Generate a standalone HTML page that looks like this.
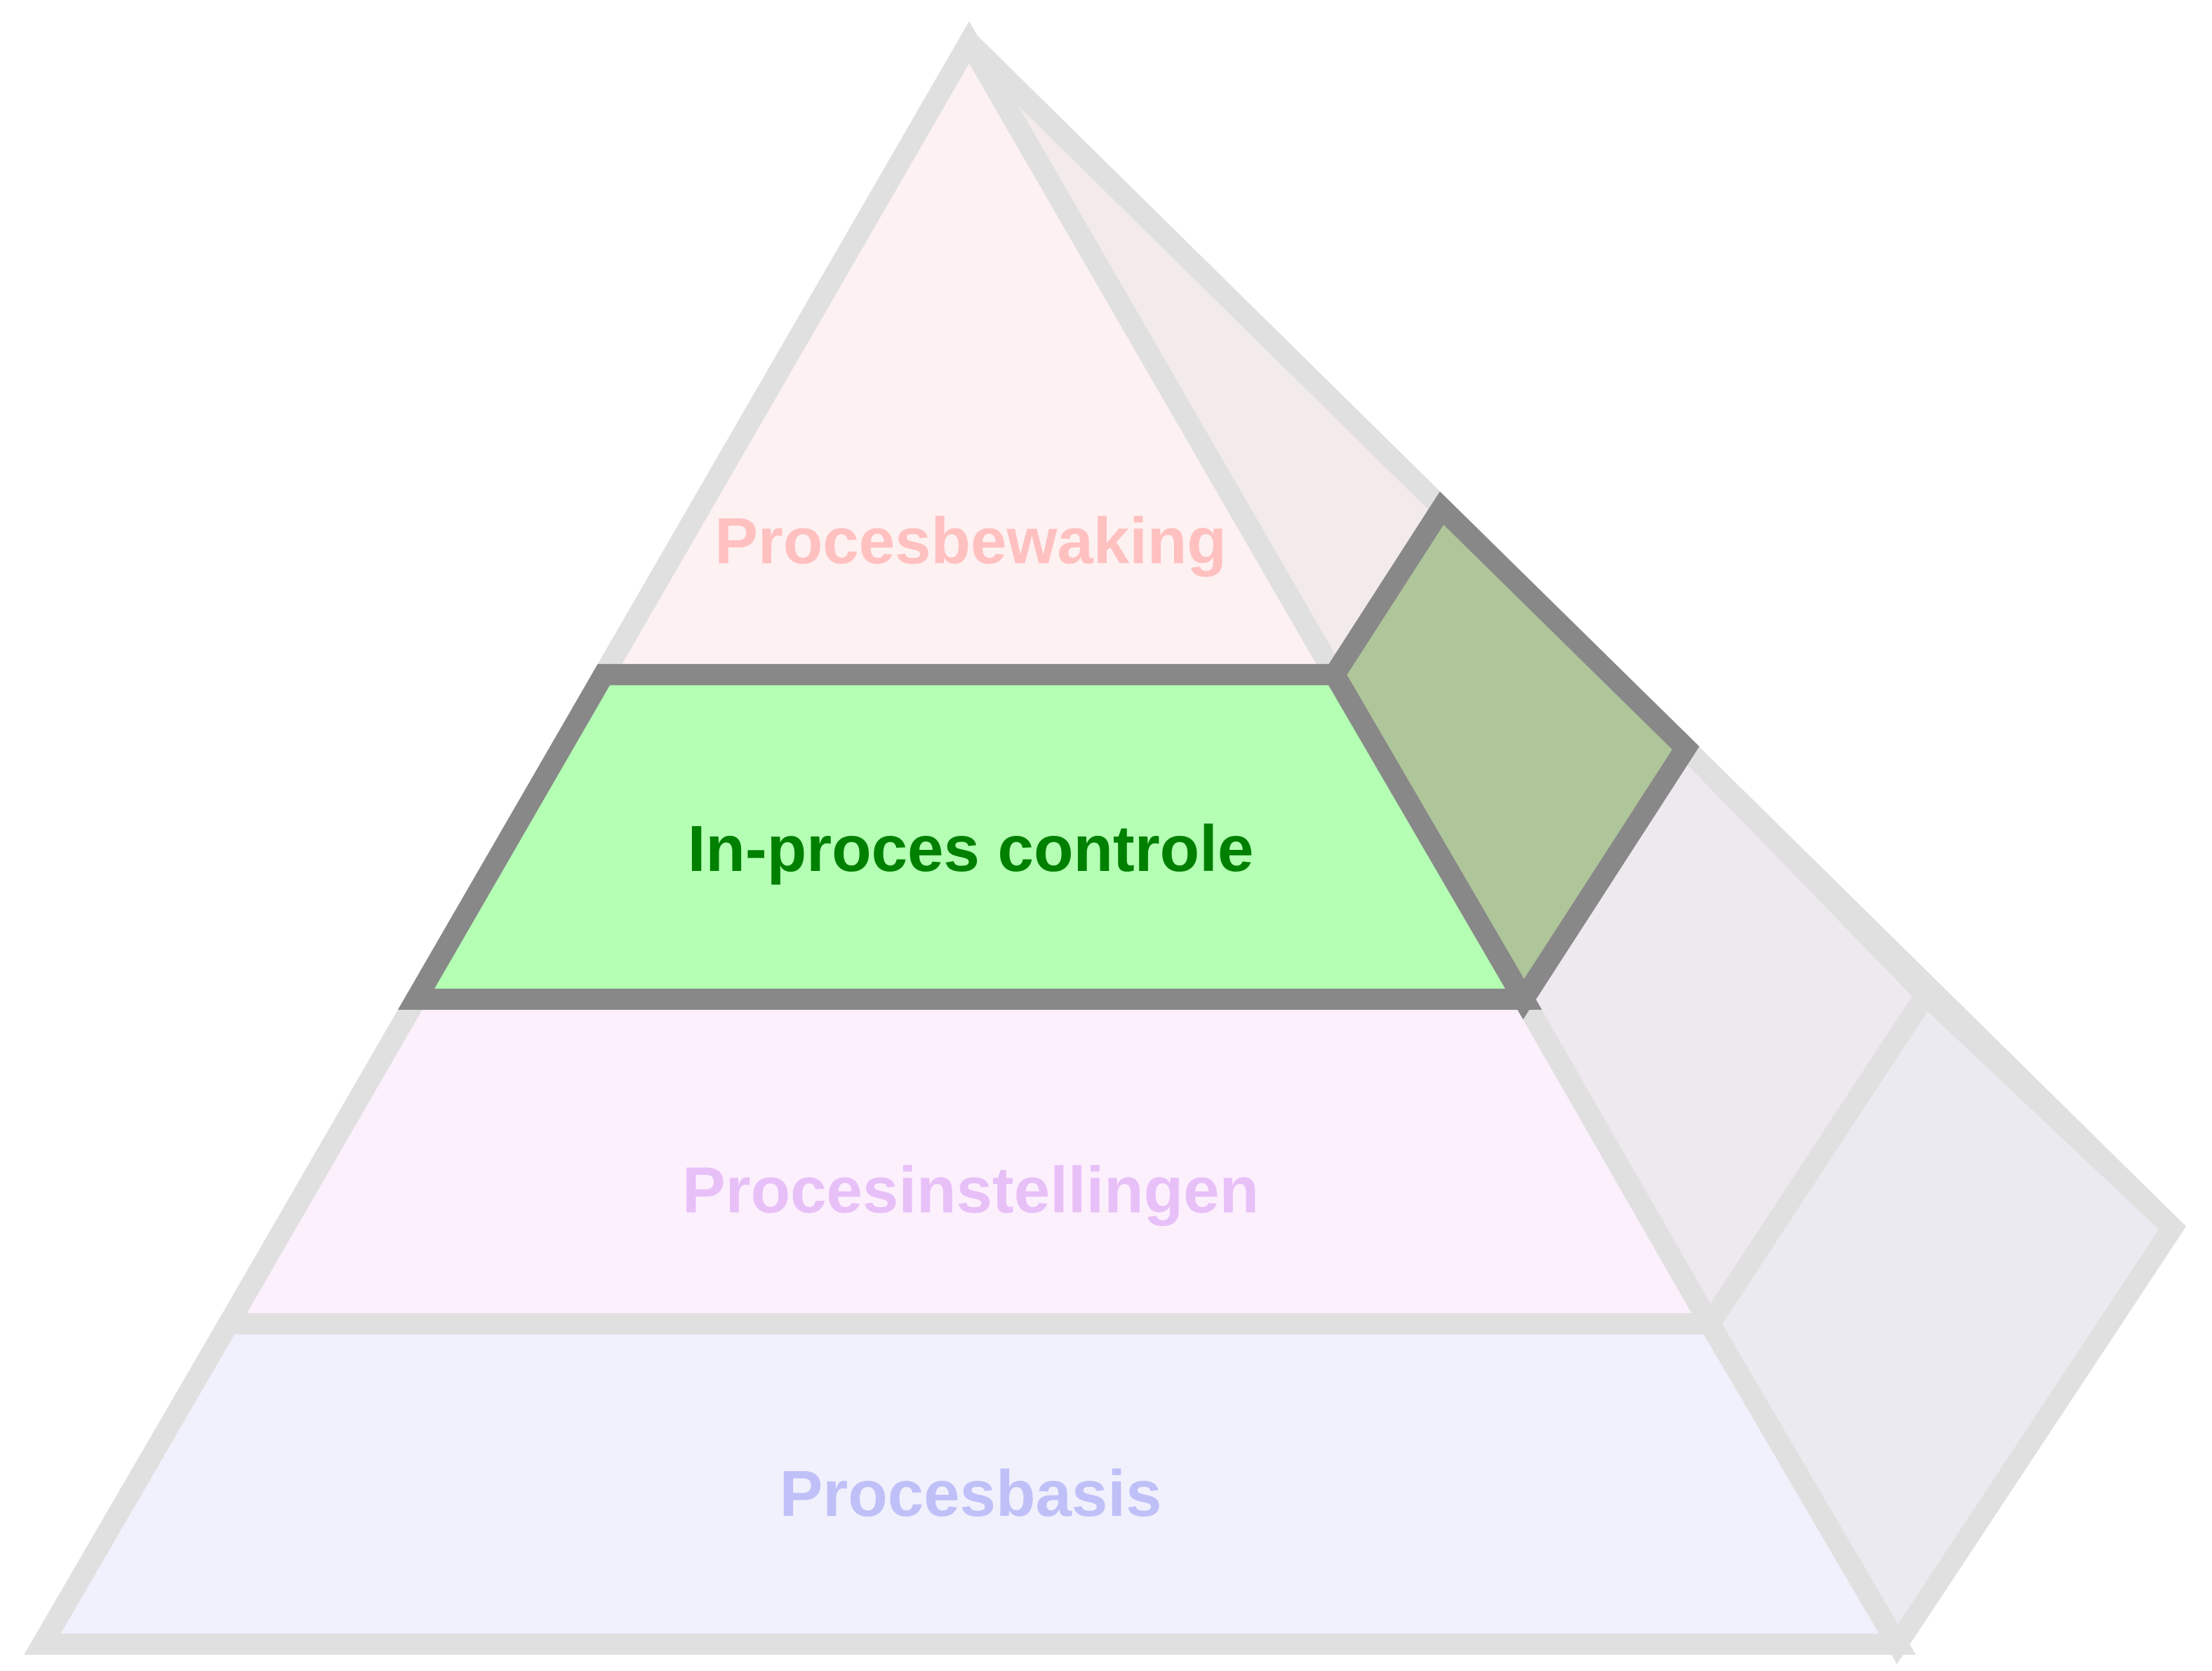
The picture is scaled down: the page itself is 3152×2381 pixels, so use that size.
<!DOCTYPE html>
<html><head><meta charset="utf-8"><style>html,body{margin:0;padding:0;background:#fff}svg{display:block}</style></head>
<body>
<svg width="3152" height="2381" viewBox="0 0 1568 1184" preserveAspectRatio="none" xmlns="http://www.w3.org/2000/svg">
<g stroke="#e0e0e0" stroke-width="15" stroke-linejoin="miter">
<polygon points="687,30 1022,360 946,478" fill="#f3eaea"/>
<polygon points="1080,708 1195,530 1365,705 1212,938" fill="#eee9ef"/>
<polygon points="1212,938 1365,705 1540,870 1345,1165" fill="#ebeaf0"/>
<polygon points="687,30 946,478 428,478" fill="#fdf1f1"/>
<polygon points="295,708 1080,708 1212,938 162,938" fill="#fcf0fd"/>
<polygon points="162,938 1212,938 1345,1165 30,1165" fill="#f1f1fd"/>
<polyline points="687,30 1540,870" fill="none"/>
</g>
<g stroke="#888" stroke-width="15" stroke-linejoin="miter">
<polygon points="946,478 1022,360 1195,530 1080,708" fill="#afc59a"/>
<polygon points="428,478 946,478 1080,708 295,708" fill="#b4ffb4"/>
</g>
<g font-family="Liberation Sans, sans-serif" font-weight="bold" font-size="46" text-anchor="middle">
<text x="688" y="399" fill="#ffc0c0">Procesbewaking</text>
<text x="688" y="617" fill="#008000">In-proces controle</text>
<text x="688" y="859" fill="#e8c0f8">Procesinstellingen</text>
<text x="688" y="1074" fill="#c0c0f8">Procesbasis</text>
</g>
</svg>
</body></html>
